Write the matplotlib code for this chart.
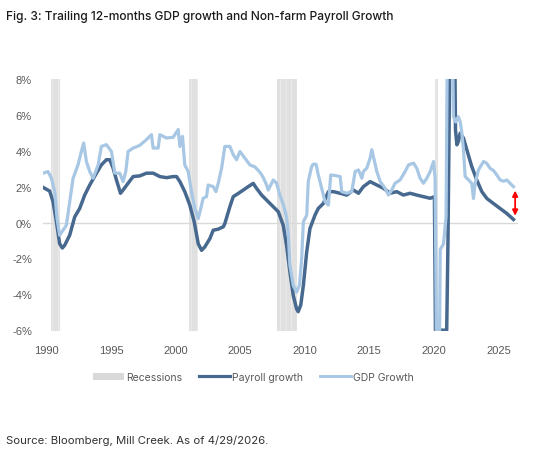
import matplotlib
matplotlib.use("Agg")
import matplotlib.pyplot as plt
from matplotlib.lines import Line2D
from matplotlib.patches import Patch

# recession spans (decimal years)
rec_start = [1990.35, 2001.07, 2007.83, 2020.07]
rec_end = [1991.05, 2001.77, 2009.38, 2020.33]

# trailing 12m non-farm payroll growth, %
pay_x = [1989.74, 1990.26, 1990.52, 1990.78, 1991.03, 1991.24, 1991.42, 1991.81, 1992.2, 1992.58,
         1992.97, 1993.36, 1993.88, 1994.26, 1994.65, 1994.91, 1995.17, 1995.43, 1995.74, 1995.94,
         1996.33, 1996.72, 1997.24, 1997.75, 1998.27, 1998.79, 1999.3, 1999.82, 2000.08, 2000.34,
         2000.72, 2001.11, 2001.45, 2001.76, 2002.02, 2002.27, 2002.66, 2002.92, 2003.31, 2003.7,
         2003.82, 2004.21, 2004.47, 2004.86, 2005.25, 2005.63, 2006.02, 2006.28, 2006.67, 2007.18,
         2007.57, 2007.96, 2008.34, 2008.6, 2008.86, 2009.12, 2009.38, 2009.5, 2009.7, 2009.9,
         2010.16, 2010.41, 2010.8, 2011.06, 2011.45, 2011.84, 2012.23, 2012.75, 2013.26, 2013.78,
         2014.17, 2014.55, 2015.07, 2015.59, 2016.1, 2016.62, 2017.13, 2017.65, 2018.17, 2018.68,
         2019.2, 2019.72, 2020.05, 2020.13, 2021.0, 2021.1, 2021.25, 2021.62, 2021.68, 2021.79,
         2021.91, 2022.04, 2022.3, 2022.56, 2022.94, 2023.33, 2023.72, 2024.11, 2024.62, 2025.14,
         2025.66, 2026.17]
pay_y = [1.96, 1.75, 1.15, 0.04, -1.18, -1.42, -1.27, -0.7, 0.32, 0.78,
         1.53, 2.09, 2.75, 3.21, 3.5, 3.5, 3.03, 2.37, 1.63, 1.81,
         2.19, 2.56, 2.6, 2.75, 2.75, 2.56, 2.5, 2.56, 2.56, 2.28,
         1.72, 0.97, 0.04, -1.18, -1.55, -1.36, -0.9, -0.43, -0.37, -0.24,
         -0.06, 0.88, 1.44, 1.62, 1.81, 2.0, 2.18, 1.9, 1.53, 1.16,
         0.88, 0.6, -0.15, -1.27, -2.76, -4.07, -4.82, -4.97, -4.6, -3.51,
         -1.64, -0.34, 0.41, 0.79, 1.06, 1.72, 1.72, 1.63, 1.53, 1.81,
         1.63, 2.0, 2.28, 2.09, 1.91, 1.63, 1.72, 1.53, 1.63, 1.53,
         1.44, 1.35, 1.44, -6.0, -6.0, -1.0, 10.0, 10.0, 5.17, 4.33,
         4.52, 4.98, 4.7, 4.05, 3.12, 2.37, 1.72, 1.34, 1.06, 0.78,
         0.5, 0.17]

# trailing 12m GDP growth, %
gdp_x = [1989.74, 1990.13, 1990.39, 1990.65, 1990.83, 1991.03, 1991.29, 1991.55, 1991.81, 1992.07,
         1992.45, 1992.71, 1992.89, 1993.1, 1993.36, 1993.62, 1994.01, 1994.26, 1994.65, 1995.04,
         1995.3, 1995.68, 1995.94, 1996.15, 1996.33, 1996.72, 1997.24, 1997.75, 1998.14, 1998.27,
         1998.66, 1998.79, 1999.3, 1999.82, 2000.21, 2000.34, 2000.54, 2000.72, 2000.98, 2001.24,
         2001.5, 2001.76, 2001.96, 2002.14, 2002.4, 2002.53, 2002.92, 2003.13, 2003.31, 2003.57,
         2003.82, 2004.21, 2004.47, 2004.73, 2004.99, 2005.37, 2005.76, 2006.15, 2006.54, 2006.8,
         2007.05, 2007.18, 2007.57, 2007.83, 2008.09, 2008.35, 2008.6, 2008.73, 2008.86, 2009.12,
         2009.38, 2009.6, 2009.77, 2009.9, 2010.16, 2010.28, 2010.54, 2010.67, 2010.88, 2011.06,
         2011.32, 2011.58, 2011.84, 2012.02, 2012.36, 2012.75, 2012.87, 2013.26, 2013.65, 2013.91,
         2014.17, 2014.43, 2014.55, 2014.81, 2015.07, 2015.2, 2015.38, 2015.59, 2015.85, 2016.23,
         2016.49, 2016.75, 2017.0, 2017.39, 2017.78, 2018.04, 2018.43, 2018.68, 2018.94, 2019.2,
         2019.46, 2019.72, 2019.98, 2020.1, 2020.2, 2020.45, 2020.5, 2020.75, 2020.95, 2021.05,
         2021.45, 2021.52, 2021.7, 2021.9, 2022.05, 2022.17, 2022.3, 2022.43, 2022.7, 2022.94,
         2023.07, 2023.2, 2023.46, 2023.85, 2024.1, 2024.36, 2024.62, 2024.88, 2025.14, 2025.4,
         2025.66, 2025.91, 2026.17]
gdp_y = [2.75, 2.84, 2.47, 1.72, 0.22, -0.71, -0.43, -0.15, 1.16, 2.47,
         3.21, 3.96, 4.43, 3.4, 2.84, 2.47, 3.21, 4.24, 4.34, 3.96,
         2.75, 2.75, 2.28, 2.84, 3.96, 4.15, 4.3, 4.62, 4.9, 4.15,
         4.15, 4.9, 4.71, 4.75, 5.18, 4.24, 4.8, 3.21, 2.84, 1.72,
         0.79, 0.22, 0.79, 1.35, 1.44, 2.09, 2.0, 1.72, 2.19, 3.03,
         4.24, 4.24, 3.78, 3.5, 3.96, 3.59, 3.21, 3.1, 2.8, 2.5,
         2.1, 1.81, 2.37, 2.19, 1.5, 1.0, 0.3, -0.62, -2.39, -3.51,
         -3.88, -3.5, -2.02, 0.04, 0.41, 2.28, 3.12, 3.25, 3.25, 2.65,
         1.91, 1.16, 0.97, 2.65, 2.62, 2.56, 1.72, 1.63, 1.72, 2.84,
         2.93, 2.47, 2.84, 3.03, 3.59, 4.06, 3.5, 2.84, 2.28, 1.91,
         1.53, 1.81, 2.19, 2.37, 2.84, 3.21, 3.31, 3.03, 2.47, 2.19,
         2.47, 2.84, 3.4, 2.47, -6.0, -6.0, -1.5, -1.2, 0.3, 10.0,
         10.0, 5.92, 5.6, 5.9, 5.6, 5.0, 4.05, 2.56, 2.37, 2.18,
         1.34, 2.18, 2.93, 3.4, 3.3, 3.02, 2.9, 2.65, 2.37, 2.3,
         2.37, 2.18, 2.0]

years = [1990, 1995, 2000, 2005, 2010, 2015, 2020, 2025]
pcts = [-6, -4, -2, 0, 2, 4, 6, 8]

# gap arrow at the latest print
gap_x = 2026.3
gap_lo, gap_hi = 0.38, 1.78

DARK = "#47698f"
LIGHT = "#a7c7e4"
GREY = "#595959"

plt.rcParams["hatch.color"] = "#f3f3f3"
plt.rcParams["hatch.linewidth"] = 0.4

fig = plt.figure(figsize=(5.54, 4.56), dpi=100)
ax = fig.add_axes([0.0776, 0.2726, 0.8574, 0.552])

for a, b in zip(rec_start, rec_end):
    ax.axvspan(a, b, facecolor="#e0e0e0", edgecolor="#f3f3f3", hatch="|||", lw=0, zorder=0)

ax.axhline(0, color="#d9d9d9", lw=1.0, zorder=1)
ax.plot(pay_x, pay_y, color=DARK, lw=2.5, solid_joinstyle="round", zorder=3)
ax.plot(gdp_x, gdp_y, color=LIGHT, lw=2.3, solid_joinstyle="round", zorder=4)

ax.annotate("", xy=(gap_x, gap_lo), xytext=(gap_x, gap_hi),
            arrowprops=dict(arrowstyle="<|-|>", color="red", lw=1.3,
                            mutation_scale=8, shrinkA=0, shrinkB=0),
            annotation_clip=False, zorder=5)

ax.set_xlim(1989.74, 2026.52)
ax.set_ylim(-6.03, 8)
ax.set_xticks(years)
ax.set_xticklabels([str(y) for y in years])
ax.set_yticks(pcts)
ax.set_yticklabels([f"{p}%" for p in pcts])
ax.tick_params(length=0, labelsize=8, labelcolor=GREY)
ax.tick_params(axis="y", pad=8)
ax.tick_params(axis="x", pad=10)
for lab in ax.get_xticklabels() + ax.get_yticklabels():
    lab.set_family("Liberation Sans")
for s in ax.spines.values():
    s.set_visible(False)

handles = [Patch(facecolor="#d9d9d9", edgecolor="none"),
           Line2D([], [], color=DARK, lw=2.3),
           Line2D([], [], color=LIGHT, lw=2.1)]
fig.legend(handles, ["Recessions", "Payroll growth", "GDP Growth"],
           loc="center", bbox_to_anchor=(0.457, 0.171), ncol=3, frameon=False,
           prop={"family": "Inter", "size": 7.5}, handlelength=3.0,
           handletextpad=0.2, columnspacing=1.6, labelcolor=GREY)

fig.text(0.011, 0.962, "Fig. 3: Trailing 12-months GDP growth and Non-farm Payroll Growth",
         ha="left", va="center", fontsize=8.6, family="Inter", weight="medium", color="#1a1a1a")
fig.text(0.011, 0.033, "Source: Bloomberg, Mill Creek. As of 4/29/2026.",
         ha="left", va="center", fontsize=8.2, family="Inter", color="#333333")

fig.savefig("out.png", dpi=100)
